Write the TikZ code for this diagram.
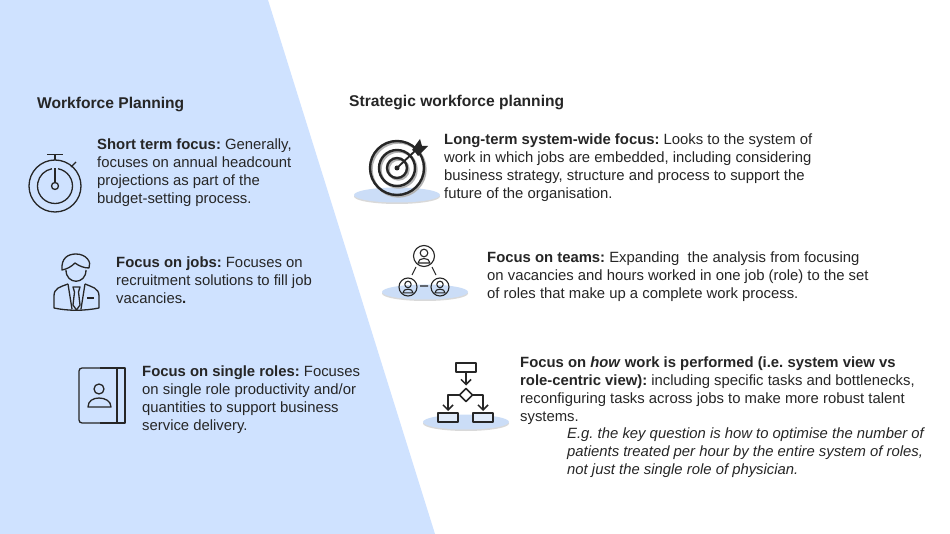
\documentclass[tikz,border=0pt]{standalone}
\usepackage{xcolor}
\usepackage{fontspec}
\setmainfont{Liberation Sans}
\usetikzlibrary{arrows.meta}
\definecolor{panelblue}{RGB}{207,226,255}
\definecolor{discblue}{RGB}{203,221,247}
\definecolor{inkdark}{RGB}{38,38,38}

\begin{document}
\frenchspacing
\begin{tikzpicture}[
  x=1pt, y=-1pt,
  headline/.style={anchor=west, inner sep=0pt, text=inkdark, font=\fontsize{15.6}{18}\selectfont\bfseries},
  para/.style={anchor=north west, inner sep=0pt, align=left, text=inkdark, font=\fontsize{14.85}{18}\selectfont},
  icon/.style={draw=inkdark, line width=1.3pt, line join=round},
  thinicon/.style={draw=inkdark, line width=1.1pt, line join=round},
  flowarrow/.style={icon, line width=1.5pt, -{Straight Barb[length=5pt,width=10pt]}},
  disc/.style={fill=discblue, draw=none},
  discshade/.style={fill=black, fill opacity=0.15, draw=none}
]
\useasboundingbox (0,0) rectangle (950,534);
\fill[white] (0,0) rectangle (950,534);
\fill[panelblue] (0,0) -- (268,0) -- (435,534) -- (0,534) -- cycle;

% headings
\node[headline] (wfplan) at (37,105) {Workforce Planning};
\node[headline] (swplan) at (349,103) {Strategic workforce planning};

% left column
\node[para] (shortterm) at (97,139) {\textbf{Short term focus:} Generally,\\focuses on annual headcount\\projections as part of the\\budget-setting process.};
\node[para] (jobs) at (116,257) {\textbf{Focus on jobs:} Focuses on\\recruitment solutions to fill job\\vacancies\textbf{.}};
\node[para] (roles) at (142,366) {\textbf{Focus on single roles:} Focuses\\on single role productivity and/or\\quantities to support business\\service delivery.};

% right column
\node[para] (longterm) at (444,134) {\textbf{Long-term system-wide focus:} Looks to the system of\\work in which jobs are embedded, including considering\\business strategy, structure and process to support the\\future of the organisation.};
\node[para] (teams) at (487,252) {\textbf{Focus on teams:} Expanding\ \ the analysis from focusing\\on vacancies and hours worked in one job (role) to the set\\of roles that make up a complete work process.};
\node[para] (how) at (520,357) {\textbf{Focus on \textit{how} work is performed (i.e. system view vs}\\\textbf{role-centric view):} including specific tasks and bottlenecks,\\reconfiguring tasks across jobs to make more robust talent\\systems.};
\node[para, font=\fontsize{14.85}{18}\selectfont\itshape] (example) at (567,428) {E.g. the key question is how to optimise the number of\\patients treated per hour by the entire system of roles,\\not just the single role of physician.};

% stopwatch
\draw[icon] (55,186) circle (26);
\draw[icon] (55,186) ++(-80:17.5) arc (-80:260:17.5);
\draw[icon] (55,186) circle (3.5);
\draw[icon] (55,182.5) -- (55,168);
\draw[icon] (47,154.5) -- (63,154.5) (55,154.5) -- (55,160);
\draw[icon] (71,167) -- (76,162);

% person in suit
\draw[icon] (66,270) .. controls (66,285) and (86,285) .. (86,270);
\draw[icon] (62,270) .. controls (61,258) and (68,254) .. (76,254)
  .. controls (86,254) and (92,262) .. (89,268) .. controls (84,268) and (79,266) .. (75,263)
  .. controls (71,267) and (67,269) .. (62,270) -- cycle;
\draw[icon] (68,284) .. controls (60,287) and (54,288) .. (54,296) -- (54,308)
  .. controls (68,311) and (84,311) .. (99,308) -- (99,296) .. controls (99,288) and (92,287) .. (85,284);
\draw[icon] (68,284) -- (72,309) (85,284) -- (81,309);
\draw[icon] (73,287) -- (80,287) -- (78.5,292) -- (80,305) -- (76.5,310) -- (73,305) -- (74.5,292) -- cycle;
\draw[icon] (87,298) -- (94,298);

% contact book
\draw[icon, rounded corners=3pt] (100,368) -- (79,368) -- (79,423) -- (100,423);
\draw[icon] (100,368) -- (125,368) -- (125,423) -- (100,423);
\draw[icon] (117,368) -- (117,423);
\draw[icon] (99,389) circle (5);
\draw[icon] (88,407) .. controls (88,401) and (93,398) .. (99,398) .. controls (105,398) and (111,401) .. (111,407) -- cycle;

% target
\fill[discshade] (397,196.5) ellipse (43 and 7.5);
\fill[disc] (397,195) ellipse (43 and 7.5);
\foreach \rad in {27, 18, 10} {
  \draw[black!30, line width=2.4pt] (398.5,169.5) circle (\rad);
  \draw[inkdark, line width=2.4pt] (397,168) circle (\rad);
}
\fill[inkdark] (397,168) circle (2.5);
\draw[inkdark, line width=1.8pt] (397,168) -- (417,149);
\fill[inkdark] (412,150) -- (420,139) -- (422,146) -- (428,146) -- (418,156) -- (415,152) -- cycle;

% team of three
\fill[discshade] (425,293.5) ellipse (43 and 7.5);
\fill[disc] (425,292) ellipse (43 and 7.5);
\foreach \cx/\cy/\rad/\sz in {424/256/10.5/1, 408/287/9/0.85, 440/287/9/0.85} {
  \draw[thinicon] (\cx,\cy) circle (\rad);
  \draw[thinicon] (\cx,\cy-3*\sz) circle (3.8*\sz);
  \draw[thinicon] (\cx-6*\sz,\cy+7*\sz) .. controls (\cx-6*\sz,\cy+1*\sz) and (\cx+6*\sz,\cy+1*\sz) .. (\cx+6*\sz,\cy+7*\sz) -- cycle;
}
\draw[thinicon] (416,267) -- (412,275) (432,267) -- (436,275) (420,286) -- (428,286);

% process flow
\fill[discshade] (466,423.5) ellipse (43 and 7.5);
\fill[disc] (466,422) ellipse (43 and 7.5);
\draw[icon, line width=1.5pt, fill=white] (456,363) rectangle (476,372);
\draw[icon, line width=1.5pt, fill=discblue!60!white] (438,413) rectangle (458,422);
\draw[icon, line width=1.5pt, fill=discblue!60!white] (473,413) rectangle (493,422);
\draw[icon, line width=1.5pt] (466,388.5) -- (472.5,395) -- (466,401.5) -- (459.5,395) -- cycle;
\draw[flowarrow] (466,372) -- (466,385.5);
\draw[flowarrow] (459.5,395) -- (448,395) -- (448,411);
\draw[flowarrow] (472.5,395) -- (483,395) -- (483,411);
\end{tikzpicture}
\end{document}
